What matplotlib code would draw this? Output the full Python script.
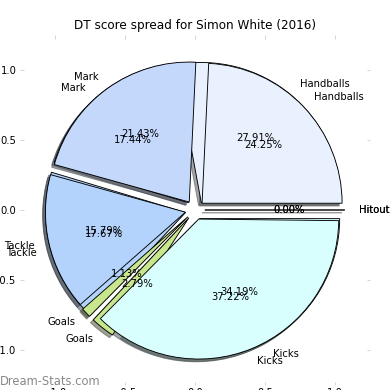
import matplotlib
matplotlib.use("Agg")
import matplotlib.pyplot as plt
import numpy as np

labels = ["Hitout", "Handballs", "Mark", "Tackle", "Goals", "Kicks"]
# two splits overlaid (percent)
values_back = [0.00, 27.91, 17.44, 17.67, 2.79, 34.19]
values_front = [0.00, 24.25, 21.43, 15.79, 1.13, 37.22]
colors = ["#f0f0f0", "#e9f1fe", "#c4d8fc", "#b3d3fc", "#c8e78d", "#d8fefe"]
explode = [0.07] * 6
yticks = [-1.0, -0.5, 0.0, 0.5, 1.0]
xticks = [-1.0, -0.5, 0.0, 0.5, 1.0]

fig = plt.figure(figsize=(390 / 72, 390 / 72), dpi=72)
ax = fig.add_axes([20 / 390, 5 / 390, 350 / 390, 350 / 390])

wp = {"edgecolor": "black", "linewidth": 0.9}
ax.pie(np.array(values_back) / 100.0, labels=labels, colors=colors, explode=explode,
       autopct="%.2f%%", shadow=True, normalize=True, wedgeprops=wp, frame=True)
ax.pie(np.array(values_front) / 100.0, labels=labels, colors=colors, explode=explode,
       autopct="%.2f%%", shadow=True, normalize=False, wedgeprops=wp, frame=True)

ax.set_xlim(-1.25, 1.25)
ax.set_ylim(-1.25, 1.25)
ax.set_aspect("equal")
ax.set_xticks(xticks)
ax.set_yticks(yticks)
for s in ax.spines.values():
    s.set_visible(False)
ax.tick_params(top=True, right=True, direction="in", color="#cccccc", length=3.5,
               labelsize=10)
ax.set_title("DT score spread for Simon White (2016)", fontsize=12)
fig.text(0.0, 0.012, "Dream-Stats.com", color="#888888", fontsize=11.5)

fig.savefig("out.png", dpi=72)
